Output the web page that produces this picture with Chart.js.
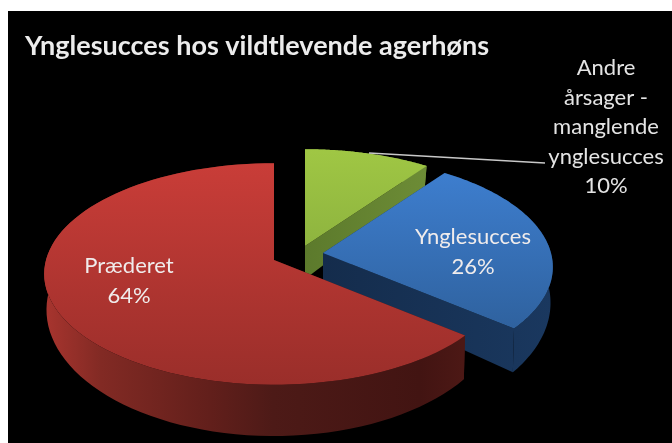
<!DOCTYPE html>
<html lang="da">
<head>
<meta charset="utf-8">
<style>
html,body{margin:0;padding:0;background:#fff;width:672px;height:443px;overflow:hidden}
#panel{position:absolute;left:8px;top:11px;width:664px;height:432px;background:#000}
#wrap{position:absolute;left:0;top:0;width:672px;height:443px;filter:blur(0.7px)}
</style>
<script src="https://cdn.jsdelivr.net/npm/chart.js@4/dist/chart.umd.min.js"></script>
</head>
<body>
<div id="panel"></div>
<div id="wrap"><canvas id="c" width="672" height="443"></canvas></div>
<script>
const chartTitle = 'Ynglesucces hos vildtlevende agerhøns';
const categories = ['Andre årsager - manglende ynglesucces', 'Ynglesucces', 'Præderet'];
const values = [10, 26, 64];
const percentLabels = ['10%', '26%', '64%'];
const labelLines = [['Andre', 'årsager -', 'manglende', 'ynglesucces'], ['Ynglesucces'], ['Præderet']];

// Styling and scene geometry of the tilted, exploded disc
const topColors = [['#a0c744', '#8eb43f'], ['#3d7dcd', '#2f629f'], ['#c93d38', '#9a2e2a']];
const wallStops = [
  [[0, '#5c7a2c'], [1, '#6d8c36']],
  [[0, '#142c4c'], [1, '#1a385f']],
  [[0, '#aa352f'], [0.14, '#822a24'], [0.4, '#621f1b'], [0.55, '#4d1a17'], [0.9, '#421412'], [1, '#4c1815']]
];
const apexes = [[305, 246], [323, 253], [274, 260]];
const labelPos = [[606, 68, 29.5], [473, 237, 30], [129, 266, 30]];
const TOP = {a: 228, b: 109, k: 0.126, d: 0};
const BOT = {a: 225.5, b: 124, k: 0.133, d: 33};

function project(theta, L, apex) {
  const u = Math.sin(theta), v = Math.cos(theta), w = 1 + L.k * v;
  return [apex[0] + L.a * u / w, apex[1] + L.d - L.b * v / w];
}

const pie3d = {
  id: 'pie3d',
  beforeDatasetsDraw(chart) {
    const ctx = chart.ctx;
    const arcs = chart.getDatasetMeta(0).data;
    arcs.forEach((arc, i) => {
      const apex = apexes[i];
      const t0 = arc.startAngle + Math.PI / 2, t1 = arc.endAngle + Math.PI / 2;
      const n = 90, thetas = [];
      for (let s = 0; s <= n; s++) thetas.push(t0 + (t1 - t0) * s / n);

      const x0 = i === 2 ? 42 : i === 1 ? 323 : 305, x1 = i === 2 ? 462 : i === 1 ? 552 : 427;
      const g = ctx.createLinearGradient(x0, 0, x1, 0);
      wallStops[i].forEach(s => g.addColorStop(s[0], s[1]));

      const bottomApex = [apex[0], apex[1] + BOT.d];
      // cut faces
      ctx.fillStyle = g;
      [t0, t1].forEach(t => {
        const a = project(t, TOP, apex), b = project(t, BOT, apex);
        ctx.beginPath();
        ctx.moveTo(apex[0], apex[1]);
        ctx.lineTo(a[0], a[1]);
        ctx.lineTo(b[0], b[1]);
        ctx.lineTo(bottomApex[0], bottomApex[1]);
        ctx.closePath();
        ctx.fill();
      });
      // outer wall as one band, traced along the top arc and back along the bottom arc
      ctx.beginPath();
      thetas.forEach((t, s) => {
        const p = project(t, TOP, apex);
        if (s === 0) ctx.moveTo(p[0], p[1]); else ctx.lineTo(p[0], p[1]);
      });
      [...thetas].reverse().forEach(t => {
        const p = project(t, BOT, apex);
        ctx.lineTo(p[0], p[1]);
      });
      ctx.closePath();
      ctx.fill();
      // top face
      const yTop = i === 0 ? 148 : i === 1 ? 177 : 163, yBot = i === 0 ? 245 : i === 1 ? 327 : 385;
      const tg = ctx.createLinearGradient(0, yTop, 0, yBot);
      tg.addColorStop(0, topColors[i][0]);
      tg.addColorStop(1, topColors[i][1]);
      ctx.fillStyle = tg;
      ctx.beginPath();
      ctx.moveTo(apex[0], apex[1]);
      thetas.forEach(t => {
        const p = project(t, TOP, apex);
        ctx.lineTo(p[0], p[1]);
      });
      ctx.closePath();
      ctx.fill();
    });
    return false;
  },
  afterDraw(chart) {
    const ctx = chart.ctx;
    ctx.save();
    // leader line of the small slice
    ctx.strokeStyle = '#c8c8c8';
    ctx.lineWidth = 1.4;
    ctx.beginPath();
    ctx.moveTo(369, 153);
    ctx.lineTo(545, 163);
    ctx.stroke();
    ctx.font = '22px Lato';
    ctx.textAlign = 'center';
    ctx.textBaseline = 'middle';
    labelLines.forEach((lines, i) => {
      const [x, y, step] = labelPos[i];
      ctx.fillStyle = i === 0 ? '#e4e4e4' : '#f0ecec';
      [...lines, percentLabels[i]].forEach((txt, k) => ctx.fillText(txt, x, y + k * step));
    });
    ctx.restore();
  }
};

new Chart(document.getElementById('c'), {
  type: 'pie',
  data: {labels: categories, datasets: [{data: values, backgroundColor: topColors.map(c => c[0]), borderWidth: 0}]},
  plugins: [pie3d],
  options: {
    responsive: false,
    animation: false,
    layout: {padding: {left: 25, top: 30, right: 20, bottom: 10}},
    plugins: {
      legend: {display: false},
      tooltip: {enabled: false},
      title: {
        display: true,
        text: chartTitle,
        align: 'start',
        color: '#ececec',
        padding: 0,
        font: {family: 'Lato', size: 27, weight: 'bold'}
      }
    }
  }
});
</script>
</body>
</html>
